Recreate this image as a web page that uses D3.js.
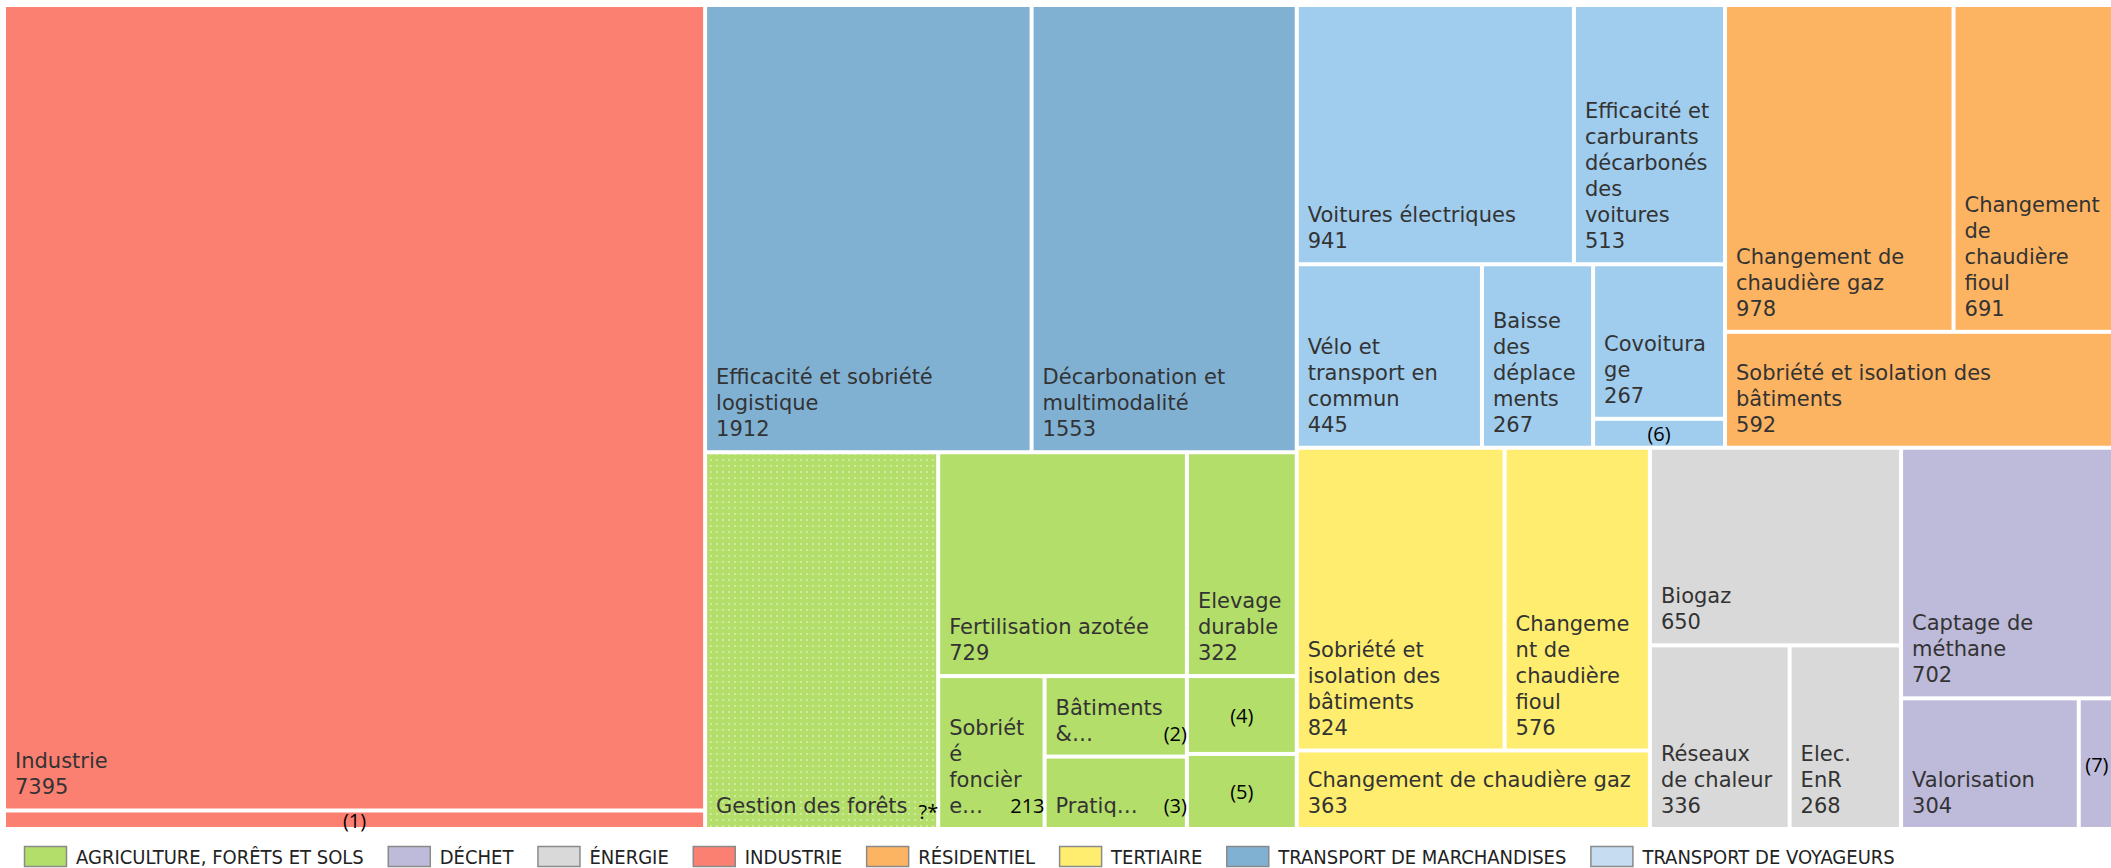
<!DOCTYPE html>
<html>
<head>
<meta charset="utf-8">
<script src="https://cdn.jsdelivr.net/npm/d3@7"></script>
<style>
  body { margin: 0; background: #fff; overflow: hidden; }
  svg { display: block; }
</style>
</head>
<body>
<svg id="chart" width="2111" height="868"></svg>
<script>
// sectors (legend order)
var sectors = ["Agriculture, forêts et sols", "Déchet", "Énergie", "Industrie",
               "Résidentiel", "Tertiaire", "Transport de marchandises", "Transport de voyageurs"];

// leaves: sector index, label, value, overlaid note
var leafSector = [3, 3,
                  6, 6,
                  0, 0, 0, 0, 0, 0, 0, 0,
                  7, 7, 7, 7, 7, 7,
                  4, 4, 4,
                  5, 5, 5,
                  2, 2, 2,
                  1, 1, 1];
var leafNames = ["Industrie", "",
                 "Efficacité et sobriété logistique", "Décarbonation et multimodalité",
                 "Gestion des forêts", "Fertilisation azotée", "Elevage durable", "Sobriété foncière",
                 "Bâtiments & machines", "Pratiques stockantes", "", "",
                 "Voitures électriques", "Efficacité et carburants décarbonés des voitures",
                 "Vélo et transport en commun", "Baisse des déplacements", "Covoiturage", "",
                 "Changement de chaudière  gaz", "Changement de chaudière fioul", "Sobriété et isolation des bâtiments",
                 "Sobriété et isolation des bâtiments", "Changement de chaudière fioul", "Changement de chaudière gaz",
                 "Biogaz", "Réseaux de chaleur", "Elec. EnR",
                 "Captage de méthane", "Valorisation", ""];
var leafValues = [7395, 170,
                  1912, 1553,
                  1150, 729, 322, 213, 150, 135, 112, 108,
                  941, 513, 445, 267, 267, 50,
                  978, 691, 592,
                  824, 576, 363,
                  650, 336, 268,
                  702, 304, 62];
var leafNotes = ["", "(1)",
                 "", "",
                 "?*", "", "", "213", "(2)", "(3)", "(4)", "(5)",
                 "", "", "", "", "", "(6)",
                 "", "", "",
                 "", "", "",
                 "", "", "",
                 "", "", "(7)"];

var fillColors = ["#b3de69", "#bebada", "#d9d9d9", "#fb8072", "#fdb462", "#ffed6f", "#80b1d3", "#a0cdee"];
var legendColors = ["#b3de69", "#bebada", "#d9d9d9", "#fb8072", "#fdb462", "#ffed6f", "#80b1d3", "#c6dcf1"];

var svg = d3.select("#chart");
var mapX0 = 6, mapY0 = 7, mapX1 = 2113, mapY1 = 827;
var labelFont = "'DejaVu Sans', sans-serif", noteFont = "'Open Sans', sans-serif";
var fontSize = 21, noteSize = 20, lineH = 26, padL = 9, padR = 12, padBottom = 14;

// dotted fill for the forest cell
var pat = svg.append("defs").append("pattern")
  .attr("id", "dots").attr("patternUnits", "userSpaceOnUse")
  .attr("width", 6).attr("height", 6);
pat.append("rect").attr("width", 6).attr("height", 6).attr("fill", fillColors[0]);
pat.append("circle").attr("cx", 3).attr("cy", 3).attr("r", 1.1).attr("fill", "rgba(255,255,255,0.45)");

var data = {
  name: "root",
  children: sectors.map(function(s, si) {
    return {
      name: s,
      sector: si,
      children: leafValues.map(function(v, i) {
        return { name: leafNames[i], value: v, note: leafNotes[i], sector: leafSector[i] };
      }).filter(function(d) { return d.sector === si; })
    };
  })
};

var root = d3.hierarchy(data)
  .sum(function(d) { return d.children ? 0 : d.value; })
  .sort(function(a, b) { return b.value - a.value; });

d3.treemap()
  .tile(d3.treemapSquarify.ratio(1.15))
  .size([mapX1 - mapX0, mapY1 - mapY0])
  .paddingInner(4)(root);

var g = svg.append("g").attr("transform", "translate(" + mapX0 + "," + mapY0 + ")");

var measure = svg.append("text")
  .attr("font-family", labelFont)
  .attr("font-size", fontSize)
  .attr("visibility", "hidden");
var measureNote = svg.append("text")
  .attr("font-family", noteFont)
  .attr("font-size", noteSize)
  .attr("visibility", "hidden");
function tw(s) { return measure.text(s).node().getComputedTextLength(); }
function tn(s) { return measureNote.text(s).node().getComputedTextLength(); }

// word wrap, breaking inside a word when it is wider than the cell
function wrap(str, maxW) {
  var words = str.split(/\s+/), lines = [], cur = "";
  words.forEach(function(w) {
    var t = cur ? cur + " " + w : w;
    if (tw(t) <= maxW) { cur = t; return; }
    if (cur) { lines.push(cur); cur = ""; }
    while (tw(w) > maxW && w.length > 1) {
      var k = w.length - 1;
      while (k > 1 && tw(w.slice(0, k)) > maxW) k--;
      lines.push(w.slice(0, k));
      w = w.slice(k);
    }
    cur = w;
  });
  if (cur) lines.push(cur);
  return lines;
}

var leaves = root.leaves();

var cell = g.selectAll("g.cell")
  .data(leaves)
  .enter().append("g")
  .attr("class", "cell");

cell.append("rect")
  .attr("x", function(d) { return d.x0; })
  .attr("y", function(d) { return d.y0; })
  .attr("width", function(d) { return d.x1 - d.x0; })
  .attr("height", function(d) { return d.y1 - d.y0; })
  .attr("fill", function(d) {
    return d.data.note === "?*" ? "url(#dots)" : fillColors[d.data.sector];
  });

cell.each(function(d) {
  var el = d3.select(this);
  var w = d.x1 - d.x0, h = d.y1 - d.y0;
  var lastBase = d.y1 - padBottom;
  var note = d.data.note;

  if (!d.data.name) {
    if (note) {
      el.append("text")
        .attr("x", (d.x0 + d.x1) / 2)
        .attr("y", (d.y0 + d.y1) / 2 + 8)
        .attr("text-anchor", "middle")
        .attr("font-family", noteFont)
        .attr("font-size", noteSize)
        .attr("fill", "#000")
        .text(note);
    }
    return;
  }

  var maxW = w - padL - padR;
  var lines = wrap(d.data.name, maxW);
  lines.push(String(d.data.value));
  var maxLines = Math.max(1, Math.floor((h - 21) / lineH));
  var noteLine = -1;
  if (lines.length > maxLines) {
    lines = lines.slice(0, maxLines);
    var room = maxW - (note ? tn(note) + 2 : 0);
    var last = lines[maxLines - 1];
    while (last.length > 1 && tw(last + "…") > room) last = last.slice(0, -1);
    lines[maxLines - 1] = last + "…";
    noteLine = maxLines - 1;
  } else if (note) {
    lines.pop();
    var lastName = lines[lines.length - 1];
    if (padL + tw(lastName) + 4 + tn(note) <= w + 6) noteLine = lines.length - 1;
    else { lines.push(""); noteLine = lines.length - 1; }
  }

  var n = lines.length;
  function baseY(i) { return lastBase - (n - 1 - i) * lineH; }

  el.append("g").selectAll("text")
    .data(lines)
    .enter().append("text")
    .attr("x", d.x0 + padL)
    .attr("y", function(s, i) { return baseY(i); })
    .attr("font-family", labelFont)
    .attr("font-size", fontSize)
    .attr("fill", "#333")
    .text(function(s) { return s; });

  if (note) {
    el.append("text")
      .attr("x", d.x1 + 2)
      .attr("y", baseY(noteLine) + (note === "?*" ? 6 : 0))
      .attr("text-anchor", "end")
      .attr("font-family", noteFont)
      .attr("font-size", noteSize)
      .attr("fill", "#000")
      .text(note);
  }
});

// legend
var legend = svg.append("g").attr("transform", "translate(24,846)");
var lx = 0;
sectors.forEach(function(s, i) {
  var it = legend.append("g").attr("transform", "translate(" + lx + ",0)");
  it.append("rect")
    .attr("x", 0.5).attr("y", 0.5)
    .attr("width", 42).attr("height", 20)
    .attr("fill", legendColors[i])
    .attr("stroke", "#8a8a8a").attr("stroke-width", 1.5);
  var t = it.append("text")
    .attr("x", 52).attr("y", 18)
    .attr("font-family", "'Liberation Sans Narrow', 'DejaVu Sans Condensed', sans-serif")
    .attr("font-size", 20)
    .attr("fill", "#222")
    .text(s.toUpperCase());
  lx += 52 + t.node().getComputedTextLength() + 24;
});
</script>
</body>
</html>
